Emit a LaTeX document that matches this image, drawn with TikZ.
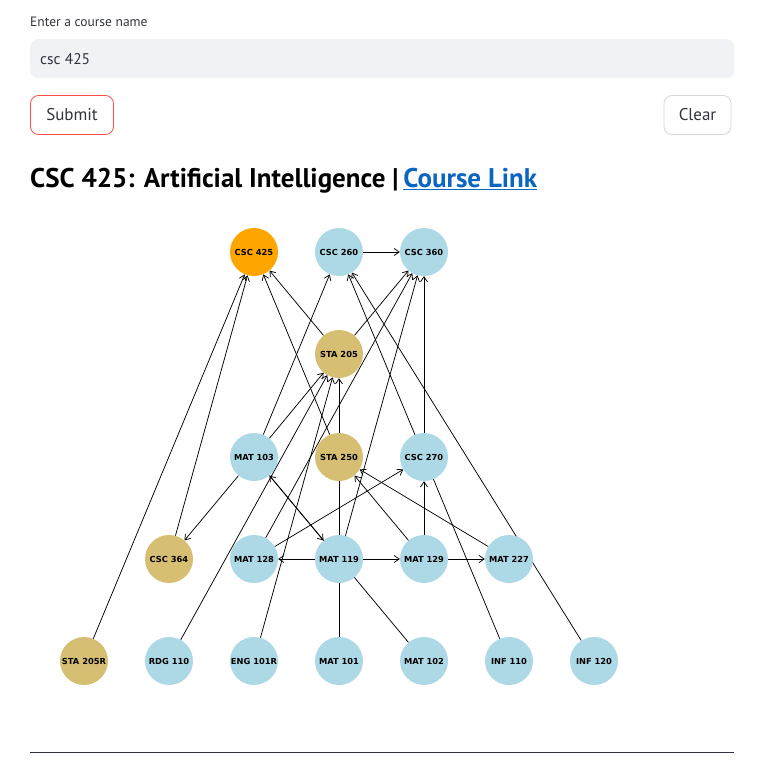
\documentclass[tikz,border=0pt]{standalone}
\usepackage{fontspec}
\newfontfamily\uifont{PT Sans}
\newfontfamily\nodefont{DejaVu Sans}
\usetikzlibrary{arrows.meta}
\pgfdeclarelayer{edgelayer}
\pgfsetlayers{edgelayer,main}
\definecolor{crsorange}{HTML}{FFA500}
\definecolor{crsblue}{HTML}{ADD8E6}
\definecolor{crsgold}{HTML}{D6BF72}
\definecolor{uitext}{HTML}{31333F}
\definecolor{inputbg}{HTML}{F0F2F6}
\definecolor{submitred}{HTML}{FF4B4B}
\definecolor{cleargray}{HTML}{D5D6DA}
\definecolor{linkblue}{HTML}{0B66C3}
\tikzset{
  course/.style={circle, minimum size=48pt, inner sep=0pt, text=black,
    font=\nodefont\bfseries\fontsize{8.3}{10}\selectfont},
  cblue/.style={course, fill=crsblue},
  cgold/.style={course, fill=crsgold},
  corange/.style={course, fill=crsorange},
  prereq/.style={draw=black, line width=0.75pt, -{Straight Barb[length=5pt,width=7pt]}},
  uibutton/.style={draw, rounded corners=8pt, line width=0.8pt, minimum height=39pt,
    inner sep=0pt, text=uitext, font=\uifont\fontsize{17}{20}\selectfont},
}
\begin{document}
\begin{tikzpicture}[x=1pt,y=-1pt]
\useasboundingbox (0,0) rectangle (761,773);
% UI
\node[anchor=base west, inner sep=0pt, text=uitext, font=\uifont\fontsize{13.5}{16}\selectfont] (lbl) at (30,27) {Enter a course name};
\node[fill=inputbg, rounded corners=8pt, minimum width=704pt, minimum height=39pt, inner sep=0pt, anchor=north west] (inp) at (30,39) {};
\node[anchor=west, inner sep=0pt, text=uitext, font=\uifont\fontsize{15.5}{18}\selectfont] (inptxt) at (40,59.5) {csc 425};
\node[uibutton, draw=submitred, minimum width=83pt] (submit) at (72,115) {Submit};
\node[uibutton, draw=cleargray, minimum width=67pt] (clear) at (697.5,115) {Clear};
\node[anchor=base west, inner sep=0pt, text=black, font=\uifont\bfseries\fontsize{27}{32}\selectfont] (head) at (30,187) {CSC 425: Artificial Intelligence |\,};
\node[anchor=base west, inner sep=0pt, text=linkblue, font=\uifont\bfseries\fontsize{27}{32}\selectfont] (link) at (head.base east) {\underline{Course Link}};
\coordinate (ruleL) at (30,752);
\coordinate (ruleR) at (734,752);
\draw[line width=0.9pt, draw=uitext] (ruleL) -- (ruleR);
% nodes
\node[corange] (csc425) at (254,252) {CSC 425};
\node[cblue] (csc260) at (339,252) {CSC 260};
\node[cblue] (csc360) at (424,252) {CSC 360};
\node[cgold] (sta205) at (339,354) {STA 205};
\node[cblue] (mat103) at (254,457) {MAT 103};
\node[cgold] (sta250) at (339,457) {STA 250};
\node[cblue] (csc270) at (424,457) {CSC 270};
\node[cgold] (csc364) at (169,559) {CSC 364};
\node[cblue] (mat128) at (254,559) {MAT 128};
\node[cblue] (mat119) at (339,559) {MAT 119};
\node[cblue] (mat129) at (424,559) {MAT 129};
\node[cblue] (mat227) at (509,559) {MAT 227};
\node[cgold] (sta205r) at (84,661) {STA 205R};
\node[cblue] (rdg110) at (169,661) {RDG 110};
\node[cblue] (eng101r) at (254,661) {ENG 101R};
\node[cblue] (mat101) at (339,661) {MAT 101};
\node[cblue] (mat102) at (424,661) {MAT 102};
\node[cblue] (inf110) at (509,661) {INF 110};
\node[cblue] (inf120) at (594,661) {INF 120};
% edges
\begin{pgfonlayer}{edgelayer}
\draw[prereq] (sta205r) -- (csc425);
\draw[prereq] (csc364) -- (csc425);
\draw[prereq] (sta250) -- (csc425);
\draw[prereq] (sta205) -- (csc425);
\draw[prereq] (mat103) -- (csc260);
\draw[prereq] (inf110) -- (csc260);
\draw[prereq] (inf120) -- (csc260);
\draw[prereq] (csc260) -- (csc360);
\draw[prereq] (sta205) -- (csc360);
\draw[prereq] (mat128) -- (csc360);
\draw[prereq] (mat119) -- (csc360);
\draw[prereq] (csc270) -- (csc360);
\draw[prereq] (mat103) -- (sta205);
\draw[prereq] (rdg110) -- (sta205);
\draw[prereq] (eng101r) -- (sta205);
\draw[prereq] (mat101) -- (sta205);
\draw[prereq] (mat103) -- (csc364);
\draw[prereq] (mat102) -- (mat103);
\draw[prereq] (mat103) -- (mat119);
\draw[prereq] (mat128) -- (csc270);
\draw[prereq] (mat129) -- (csc270);
\draw[prereq] (mat129) -- (sta250);
\draw[prereq] (mat227) -- (sta250);
\draw[prereq] (mat119) -- (mat128);
\draw[prereq] (mat119) -- (mat129);
\draw[prereq] (mat129) -- (mat227);
\end{pgfonlayer}
\end{tikzpicture}
\end{document}
